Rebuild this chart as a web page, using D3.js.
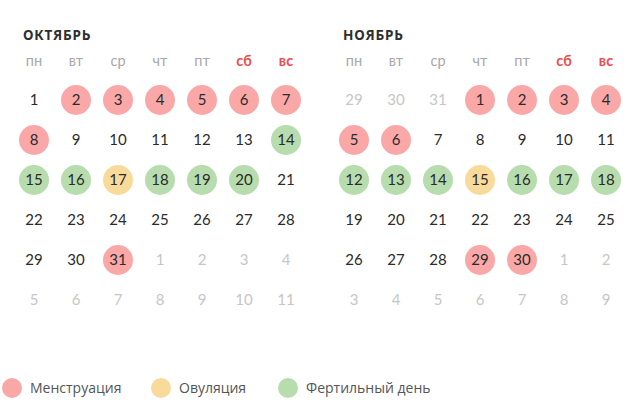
<!DOCTYPE html>
<html><head><meta charset="utf-8">
<script src="https://cdn.jsdelivr.net/npm/d3@7"></script>
<style>
html,body{margin:0;padding:0;background:#fff;}
svg{display:block;}
</style></head>
<body>
<svg id="c" width="640" height="412"></svg>
<script>
const monthTitles = ["ОКТЯБРЬ", "НОЯБРЬ"];
const weekdays = ["пн", "вт", "ср", "чт", "пт", "сб", "вс"];
const weekendDays = ["сб", "вс"];
// Each month grid: leading (previous month), current days, trailing (next month)
const octLead = [];
const octDays = [1,2,3,4,5,6,7,8,9,10,11,12,13,14,15,16,17,18,19,20,21,22,23,24,25,26,27,28,29,30,31];
const octTrail = [1,2,3,4,5,6,7,8,9,10,11];
const novLead = [29,30,31];
const novDays = [1,2,3,4,5,6,7,8,9,10,11,12,13,14,15,16,17,18,19,20,21,22,23,24,25,26,27,28,29,30];
const novTrail = [1,2,3,4,5,6,7,8,9];
const octMenstruation = [2,3,4,5,6,7,8,31];
const octOvulation = [17];
const octFertile = [14,15,16,18,19,20];
const novMenstruation = [1,2,3,4,5,6,29,30];
const novOvulation = [15];
const novFertile = [12,13,14,16,17,18];
const legendLabels = ["Менструация", "Овуляция", "Фертильный день"];
const legendKeys = ["menstruation", "ovulation", "fertile"];

const colors = {menstruation:"#f9a8a7", ovulation:"#f8da9b", fertile:"#b7dcad"};

function buildCells(lead, days, trail, men, ovu, fer){
  const cells = [];
  lead.forEach(d => cells.push({day:d, inMonth:false, type:null}));
  days.forEach(d => {
    let t = null;
    if (men.includes(d)) t = "menstruation";
    else if (ovu.includes(d)) t = "ovulation";
    else if (fer.includes(d)) t = "fertile";
    cells.push({day:d, inMonth:true, type:t});
  });
  trail.forEach(d => cells.push({day:d, inMonth:false, type:null}));
  cells.forEach((c,i) => { c.col = i % 7; c.row = Math.floor(i/7); });
  return cells;
}

const monthsData = [
  {title:monthTitles[0], cells:buildCells(octLead, octDays, octTrail, octMenstruation, octOvulation, octFertile)},
  {title:monthTitles[1], cells:buildCells(novLead, novDays, novTrail, novMenstruation, novOvulation, novFertile)}
];

const svg = d3.select("#c");
const monthX = d3.scaleBand().domain(d3.range(monthsData.length)).range([0, 640]);
const col = d3.scalePoint().domain(d3.range(7)).range([34, 286]);
const row = d3.scalePoint().domain(d3.range(6)).range([100, 300]);

const numFont = "Lato, 'Noto Sans', sans-serif";

monthsData.forEach((m, mi) => {
  const g = svg.append("g").attr("transform", `translate(${monthX(mi)},0)`);
  g.append("text").attr("x", 23).attr("y", 39.5)
    .attr("font-family", "'Noto Sans', 'DejaVu Sans', sans-serif")
    .attr("font-weight", 700).attr("font-size", 13.5)
    .attr("letter-spacing", "0.8px").attr("fill", "#2e2e2e")
    .text(m.title);
  g.selectAll("text.wd").data(weekdays).enter().append("text")
    .attr("class","wd")
    .attr("x", (d,i) => col(i)).attr("y", 66)
    .attr("text-anchor","middle")
    .attr("font-family", numFont).attr("font-size", 14.5)
    .attr("font-weight", d => weekendDays.includes(d) ? 700 : 400)
    .attr("fill", d => weekendDays.includes(d) ? "#e8504f" : "#a8a8a8")
    .text(d => d);
  g.selectAll("circle.day").data(m.cells.filter(c => c.type)).enter().append("circle")
    .attr("class","day")
    .attr("cx", d => col(d.col)).attr("cy", d => row(d.row))
    .attr("r", 15).attr("fill", d => colors[d.type]);
  g.selectAll("text.day").data(m.cells).enter().append("text")
    .attr("class","day")
    .attr("x", d => col(d.col)).attr("y", d => row(d.row))
    .attr("dy", "0.36em").attr("text-anchor","middle")
    .attr("font-family", numFont).attr("font-size", 15)
    .attr("fill", d => d.inMonth ? "#2b2b2b" : "#c6c6c6")
    .text(d => d.day);
});

const legendX = d3.scaleOrdinal().domain(legendKeys).range([12, 161, 288]);
const lg = svg.append("g");
legendKeys.forEach((k, i) => {
  lg.append("circle").attr("cx", legendX(k)).attr("cy", 388).attr("r", 10).attr("fill", colors[k]);
  lg.append("text").attr("x", legendX(k) + 18).attr("y", 388).attr("dy","0.36em")
    .attr("font-family", "'Open Sans', sans-serif").attr("font-size", 14)
    .attr("fill", "#555").text(legendLabels[i]);
});
</script>
</body></html>
